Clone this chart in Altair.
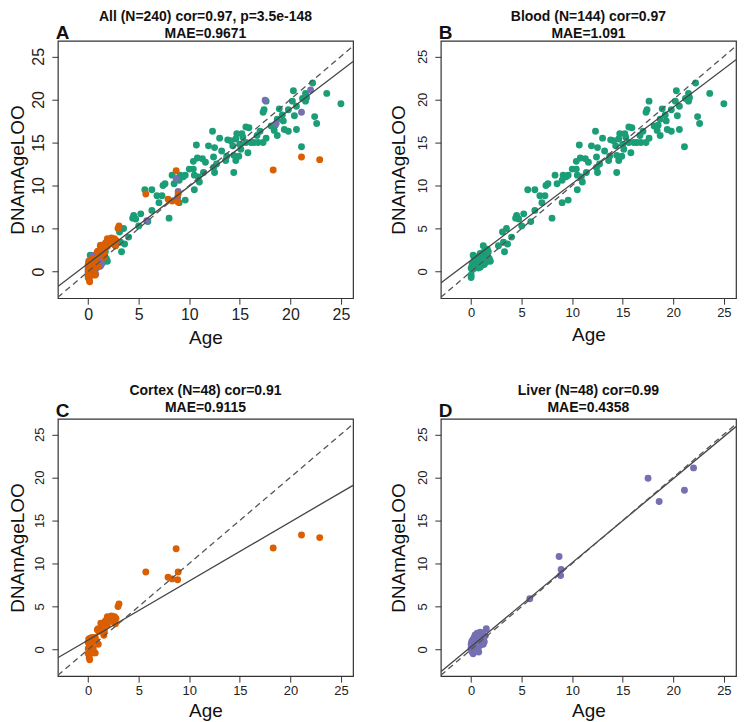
import altair as alt
import pandas as pd

tissues = ["Blood", "Cortex", "Liver"]
tissue_colors = ["#1b9e77", "#d95f02", "#7570b3"]

blood_points = [
    (22.2, 21.9), (23.6, 20.7), (25.0, 19.5), (22.4, 18.0), (22.6, 17.2), (21.1, 14.5),
    (21.5, 20.7), (21.6, 20.2), (21.5, 19.8), (21.2, 20.1), (20.3, 21.0), (20.2, 19.8),
    (20.6, 19.2), (20.4, 18.1), (20.6, 16.5), (19.8, 18.8), (19.2, 18.2), (18.9, 18.9),
    (19.3, 17.5), (19.4, 16.5), (19.8, 16.3), (18.7, 17.7), (18.5, 17.0), (18.4, 16.4),
    (18.7, 15.8), (18.1, 16.9), (17.6, 19.8), (17.4, 18.8), (17.3, 18.5), (17.6, 15.5),
    (17.3, 15.0), (17.0, 16.3), (16.8, 15.0), (16.4, 15.0), (16.1, 15.0), (15.6, 15.0),
    (16.7, 15.8), (15.9, 16.7), (15.6, 16.8), (15.2, 16.0), (15.3, 15.6), (14.7, 16.0),
    (14.6, 15.4), (14.3, 14.6), (14.9, 13.4), (15.1, 14.2), (15.0, 14.8), (15.8, 13.8),
    (14.6, 12.9), (14.4, 13.5), (13.6, 12.9), (14.4, 11.5), (13.7, 13.4), (13.8, 15.3),
    (14.1, 15.2), (13.0, 15.5), (13.2, 14.0), (12.7, 12.5), (12.5, 14.4), (12.3, 16.3),
    (12.4, 13.3), (12.5, 11.5), (12.4, 12.1), (11.9, 14.6), (11.6, 12.7), (11.3, 13.1),
    (11.4, 11.5), (10.8, 13.2), (10.7, 14.7), (10.4, 12.8), (10.4, 11.9), (10.5, 11.2),
    (11.0, 10.4), (10.5, 9.5), (10.9, 11.0), (10.0, 11.9), (9.6, 11.2), (9.4, 11.0),
    (9.1, 11.2), (9.0, 10.6), (9.6, 8.3), (9.0, 8.0), (8.3, 11.2), (8.5, 10.2),
    (8.0, 6.2), (7.6, 10.2), (7.4, 10.0), (7.3, 8.8), (7.0, 8.0), (6.8, 8.8),
    (6.3, 7.1), (6.3, 9.5), (5.6, 9.5), (5.9, 5.8), (5.2, 6.7), (4.5, 6.5),
    (4.4, 6.2), (4.7, 6.1), (4.0, 4.0), (5.0, 5.3), (3.5, 5.0), (3.1, 4.6),
    (3.6, 3.2), (3.3, 2.3), (3.2, 3.4), (2.7, 3.0), (1.9, 1.2), (1.6, 2.6),
    (1.2, 3.0), (1.3, 1.9), (1.1, 1.3),
    (0.0, -0.4), (0.0, -0.7), (0.0, 0.4), (0.1, 0.9), (0.2, 0.3), (0.2, 1.9),
    (0.3, 0.6), (0.4, 1.3), (0.4, 0.8), (0.5, 0.5), (0.5, 1.0), (0.6, 1.7),
    (0.6, 0.6), (0.7, 1.2), (0.7, 0.4), (0.8, 0.9), (0.9, 2.1), (0.9, 0.5),
    (1.0, 0.7), (1.0, 1.5), (1.1, 1.0), (1.2, 1.5), (1.2, 2.2), (1.3, 0.8),
    (1.4, 1.1), (1.5, 2.5), (1.5, 1.1), (1.6, 1.8), (1.7, 2.3), (1.8, 1.5),
    (0.3, 1.5), (0.1, 0.2), (0.8, 1.6),
]

cortex_points = [
    (22.9, 13.0), (21.1, 13.3), (18.3, 11.8), (8.7, 11.7), (5.7, 9.0), (8.9, 9.0),
    (8.85, 8.1), (7.9, 8.4), (8.3, 8.2), (3.05, 5.3), (2.95, 5.0), (2.6, 3.8),
    (2.3, 3.9), (2.7, 3.0), (2.75, 3.6), (1.9, 3.8), (1.8, 3.4), (2.2, 3.6),
    (1.7, 3.3), (1.4, 3.0), (1.25, 3.05), (1.9, 2.9), (1.0, 2.4), (1.05, 2.1),
    (1.55, 1.65), (1.35, 2.6), (1.6, 2.2), (1.0, 0.6), (0.7, -0.4), (0.5, -0.4),
    (0.15, -1.2), (0.1, -0.95), (0.0, 0.1), (0.0, 0.8), (0.05, 1.2), (0.2, 1.3),
    (0.4, 1.4), (0.25, 0.5), (0.6, 0.9), (0.0, -0.5), (0.3, -0.3), (0.5, 0.1),
    (0.8, 1.0), (0.7, 1.4), (0.1, 0.3), (2.5, 3.2), (0.9, 2.3), (0.3, 0.7),
]

liver_points = [
    (22.0, 21.1), (17.5, 19.9), (18.6, 17.2), (21.1, 18.5), (8.7, 10.8), (8.9, 9.3),
    (8.85, 8.6), (5.8, 5.9),
    (0.0, 0.2), (0.0, 0.6), (0.05, 0.9), (0.1, -0.3), (0.1, 0.4), (0.15, 1.1),
    (0.2, -0.5), (0.2, 0.7), (0.25, 0.1), (0.3, 1.4), (0.3, 0.5), (0.35, -0.2),
    (0.4, 0.9), (0.4, 1.7), (0.45, 0.3), (0.5, 1.2), (0.5, -0.1), (0.55, 1.6),
    (0.6, 0.6), (0.6, 1.9), (0.65, 1.0), (0.7, 0.2), (0.7, 1.5), (0.75, -0.3),
    (0.8, 0.8), (0.8, 1.8), (0.85, 1.3), (0.9, 0.5), (0.9, 2.0), (1.0, 1.0),
    (1.0, 1.6), (1.05, 0.7), (1.1, 1.9), (1.15, 1.2), (1.2, 0.6), (1.25, 1.5),
    (1.3, 0.9), (1.4, 1.6), (1.5, 2.4), (0.0, -0.1),
]

panel_letters = ["A", "B", "C", "D"]
panel_titles = [
    ["All (N=240) cor=0.97, p=3.5e-148", "MAE=0.9671"],
    ["Blood (N=144) cor=0.97", "MAE=1.091"],
    ["Cortex (N=48) cor=0.91", "MAE=0.9115"],
    ["Liver (N=48) cor=0.99", "MAE=0.4358"],
]
fit_intercepts = [0.94, 1.32, 1.10, 0.33]
fit_slopes = [0.896, 0.889, 0.686, 0.976]

x_domain = [-3.0, 26.2]
y_domain = [-3.1, 26.8]
tick_values = [0, 5, 10, 15, 20, 25]

FONT = "Liberation Sans"
PW, PH = 296, 258


def frame(points, tissue):
    return pd.DataFrame({
        "age": [p[0] for p in points],
        "dnam": [p[1] for p in points],
        "tissue": [tissue] * len(points),
    })


blood_df = frame(blood_points, "Blood")
cortex_df = frame(cortex_points, "Cortex")
liver_df = frame(liver_points, "Liver")
all_df = pd.concat([blood_df, liver_df, cortex_df], ignore_index=True)


def panel(df, idx, label_size, y_title_pad, title_offset, x_title_pad):
    xs = alt.X(
        "age:Q",
        scale=alt.Scale(domain=x_domain, nice=False, zero=False),
        axis=alt.Axis(
            values=tick_values, title="Age", grid=False, domain=False,
            tickSize=6, tickColor="#333", tickWidth=1,
            labelFontSize=label_size, labelPadding=2, labelColor="#222",
            labelFont=FONT, labelOverlap=False,
            titleFont=FONT, titleFontSize=19, titleFontWeight="normal",
            titlePadding=x_title_pad, titleColor="#111",
        ),
    )
    ys = alt.Y(
        "dnam:Q",
        scale=alt.Scale(domain=y_domain, nice=False, zero=False),
        axis=alt.Axis(
            values=tick_values, title="DNAmAgeLOO", grid=False, domain=False,
            tickSize=6, tickColor="#333", tickWidth=1,
            labelFontSize=label_size, labelPadding=5, labelColor="#222",
            labelAngle=270, labelAlign="center", labelBaseline="bottom",
            labelFont=FONT, labelOverlap=False,
            titleFont=FONT, titleFontSize=19, titleFontWeight="normal",
            titlePadding=y_title_pad, titleColor="#111",
        ),
    )
    pts = alt.Chart(df).mark_circle(size=48, opacity=1).encode(
        x=xs, y=ys,
        color=alt.Color("tissue:N", scale=alt.Scale(domain=tissues, range=tissue_colors), legend=None),
    )
    b0, b1 = fit_intercepts[idx], fit_slopes[idx]
    fit_df = pd.DataFrame({"age": x_domain, "dnam": [b0 + b1 * v for v in x_domain]})
    ident_df = pd.DataFrame({"age": x_domain, "dnam": x_domain})
    fit = alt.Chart(fit_df).mark_line(color="#444", strokeWidth=1.3, clip=True).encode(
        x="age:Q", y="dnam:Q")
    ident = alt.Chart(ident_df).mark_line(color="#555", strokeWidth=1.3, strokeDash=[6, 4], clip=True).encode(
        x="age:Q", y="dnam:Q")
    letter = alt.Chart(pd.DataFrame({"t": [panel_letters[idx]]})).mark_text(
        align="left", baseline="alphabetic", fontSize=19, fontWeight="bold", color="#111", font=FONT
    ).encode(x=alt.value(-2), y=alt.value(-2), text="t:N")
    return alt.layer(pts, fit, ident, letter).properties(
        width=PW, height=PH,
        title=alt.TitleParams(
            text=panel_titles[idx], fontSize=14, fontWeight="bold", font=FONT,
            anchor="middle", offset=title_offset, lineHeight=16.5, color="#111",
        ),
    )


pa = panel(all_df, 0, 16, 3, -17, 6)
pb = panel(blood_df, 1, 13, 8, -17, 6)
pc = panel(cortex_df, 2, 13, 6, -13, 4)
pd_ = panel(liver_df, 3, 13, 8, -13, 4)

chart = alt.vconcat(
    alt.hconcat(pa, pb, spacing=35),
    alt.hconcat(pc, pd_, spacing=35),
    spacing=35,
).properties(
    padding={"left": 0, "top": 0, "right": 0, "bottom": 0},
).configure(font=FONT).configure_view(stroke="#333", strokeWidth=1.2)

chart.save("out.html", embed_options={"renderer": "svg", "actions": False})
